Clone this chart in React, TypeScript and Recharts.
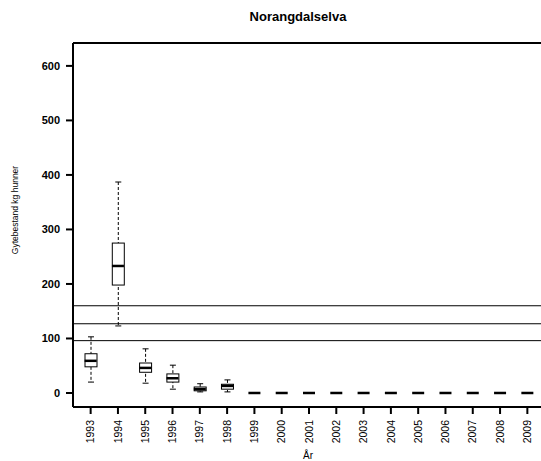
import { ComposedChart, Bar, Scatter, XAxis, YAxis, ReferenceLine } from 'recharts';

const FONT = "'Liberation Sans', Arial, Helvetica, sans-serif";

const years = [
  '1993', '1994', '1995', '1996', '1997', '1998', '1999', '2000', '2001',
  '2002', '2003', '2004', '2005', '2006', '2007', '2008', '2009',
];
const lowWhisker = [20, 123, 18, 7, 2, 2, 0, 0, 0, 0, 0, 0, 0, 0, 0, 0, 0];
const lowerQuartile = [48, 198, 38, 20, 4, 7, 0, 0, 0, 0, 0, 0, 0, 0, 0, 0, 0];
const medians = [59, 233, 46, 27, 7, 13, 0, 0, 0, 0, 0, 0, 0, 0, 0, 0, 0];
const upperQuartile = [72, 275, 55, 35, 11, 16, 0, 0, 0, 0, 0, 0, 0, 0, 0, 0, 0];
const highWhisker = [103, 387, 81, 51, 17, 24, 0, 0, 0, 0, 0, 0, 0, 0, 0, 0, 0];

const yTicks = [0, 100, 200, 300, 400, 500, 600];
const limitLines = [160, 127, 96];
const yMin = -25.7;
const yMax = 642;

const data = years.map((year, i) => ({
  year,
  whisker: [lowWhisker[i], highWhisker[i]],
  box: [lowerQuartile[i], upperQuartile[i]],
  median: medians[i],
}));

function WhiskerShape(props: any) {
  const { x, y, width, height } = props;
  const cx = x + width / 2;
  const top = Math.min(y, y + height);
  const bottom = Math.max(y, y + height);
  const cap = width / 4;
  return (
    <g>
      <line x1={cx} x2={cx} y1={top} y2={bottom} stroke="#000" strokeDasharray="3 2" />
      <line x1={cx - cap} x2={cx + cap} y1={top} y2={top} stroke="#000" />
      <line x1={cx - cap} x2={cx + cap} y1={bottom} y2={bottom} stroke="#000" />
    </g>
  );
}

function BoxShape(props: any) {
  const { x, y, width, height } = props;
  const top = Math.min(y, y + height);
  return (
    <rect x={x} y={top} width={width} height={Math.abs(height)} fill="#fff" stroke="#000" strokeWidth={1} />
  );
}

function MedianShape(props: any) {
  const { cx, cy } = props;
  return <line x1={cx - 6} x2={cx + 6} y1={cy} y2={cy} stroke="#000" strokeWidth={2.5} />;
}

function YearTick(props: any) {
  const { x, y, payload } = props;
  return (
    <text
      x={x}
      y={y}
      transform={`rotate(-90 ${x} ${y})`}
      textAnchor="end"
      dy="0.35em"
      fontSize={10.5}
      fontFamily={FONT}
      fill="#000"
    >
      {payload.value}
    </text>
  );
}

export default function App() {
  return (
    <div style={{ position: 'absolute', left: 0, top: 0, width: 541, height: 461, background: '#fff' }}>
      <ComposedChart width={541} height={461} data={data} margin={{ top: 43, right: 0, bottom: 0, left: 0 }}>
        <XAxis
          dataKey="year"
          height={54}
          padding={{ left: 4, right: 0 }}
          interval={0}
          tickSize={7}
          tickMargin={6}
          axisLine={{ stroke: '#000', strokeWidth: 2 }}
          tickLine={{ stroke: '#000', strokeWidth: 2 }}
          tick={<YearTick />}
        />
        <XAxis xAxisId="b" dataKey="year" hide padding={{ left: 4, right: 0 }} />
        <YAxis
          type="number"
          width={73}
          domain={[yMin, yMax]}
          allowDataOverflow
          ticks={yTicks}
          interval={0}
          tickSize={7}
          tickMargin={6}
          axisLine={{ stroke: '#000', strokeWidth: 2 }}
          tickLine={{ stroke: '#000', strokeWidth: 2 }}
          tick={{ fontSize: 11, fontWeight: 'bold', fill: '#000', fontFamily: FONT }}
        />
        <ReferenceLine y={yMax} stroke="#000" strokeWidth={2} />
        {limitLines.map((v) => (
          <ReferenceLine key={v} y={v} stroke="#000" strokeWidth={1} />
        ))}
        <Bar dataKey="whisker" barSize={12} shape={<WhiskerShape />} isAnimationActive={false} />
        <Bar dataKey="box" xAxisId="b" barSize={12} shape={<BoxShape />} isAnimationActive={false} />
        <Scatter dataKey="median" shape={<MedianShape />} isAnimationActive={false} />
      </ComposedChart>
      <svg
        width={541}
        height={461}
        style={{ position: 'absolute', left: 0, top: 0, pointerEvents: 'none' }}
      >
        <text x={298} y={21} textAnchor="middle" fontSize={13} fontWeight="bold" fontFamily={FONT} fill="#000">
          Norangdalselva
        </text>
        <text x={308} y={459} textAnchor="middle" fontSize={10} fontFamily={FONT} fill="#000">
          År
        </text>
        <text
          x={17.5}
          y={210}
          transform="rotate(-90 17.5 210)"
          textAnchor="middle"
          fontSize={8.5}
          fontFamily={FONT}
          fill="#000"
        >
          Gytebestand kg hunner
        </text>
      </svg>
    </div>
  );
}
